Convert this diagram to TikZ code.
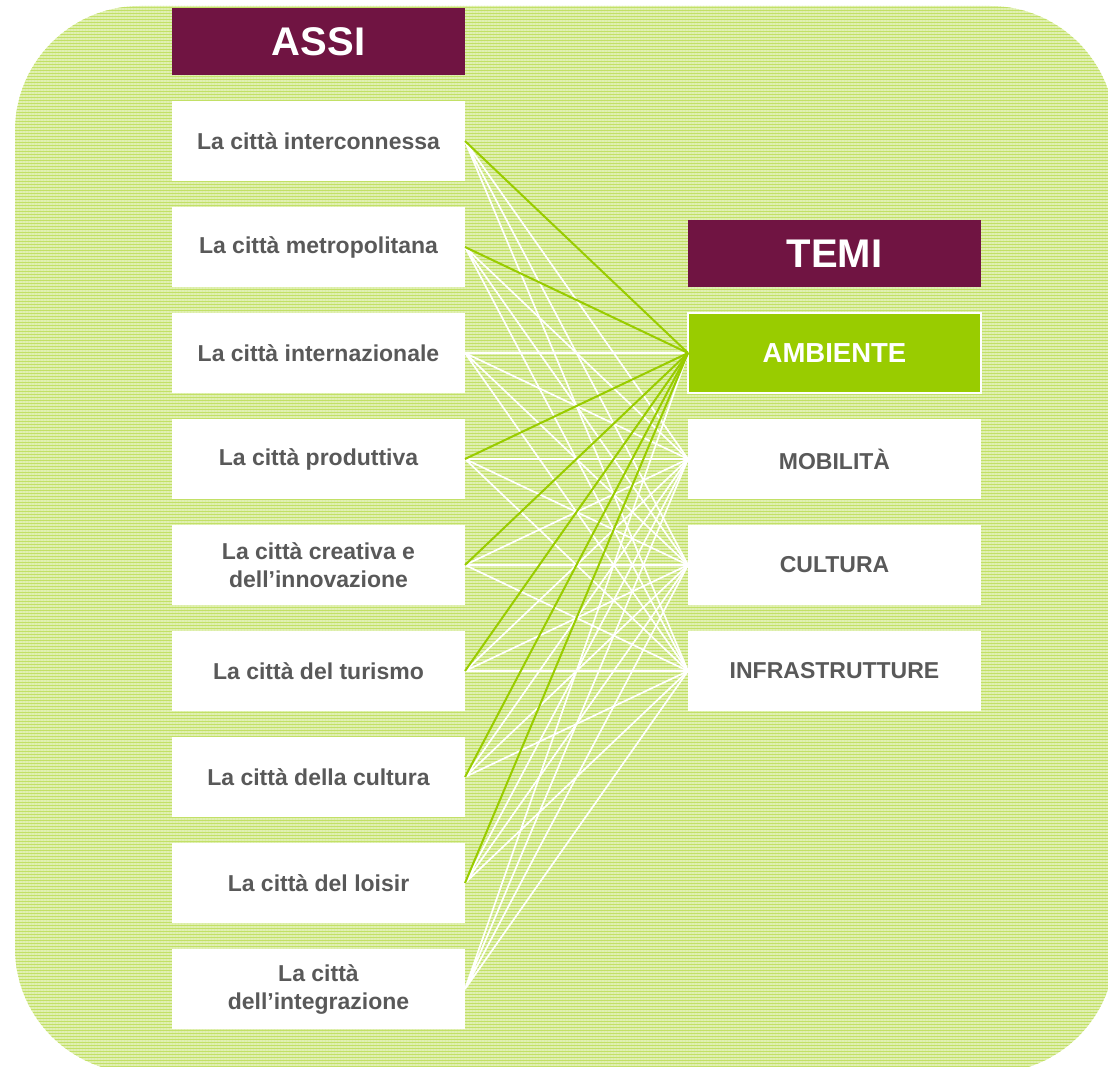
\documentclass[tikz,border=0pt]{standalone}
\usepackage{fontspec}
\setmainfont{Liberation Sans}
\usetikzlibrary{positioning}
\definecolor{ctGreen}{HTML}{99CC00}
\definecolor{ctMaroon}{HTML}{701442}
\definecolor{ctGray}{HTML}{595959}
\tikzset{
  % Header box (maroon)
  hbox/.style={rectangle,minimum width=293pt,minimum height=67pt,
    inner sep=0pt,outer sep=0pt,fill=ctMaroon,text=white,
    font=\fontsize{40pt}{44pt}\selectfont\bfseries},
  % White box (asse / tema)
  abox/.style={rectangle,minimum width=293pt,minimum height=80pt,
    inner sep=0pt,outer sep=0pt,fill=white,text=ctGray,align=center,
    font=\fontsize{23pt}{28pt}\selectfont\bfseries},
  % Highlighted tema (green)
  gbox/.style={abox,fill=ctGreen,draw=white,line width=1.5pt,text=white,
    font=\fontsize{27.5pt}{32pt}\selectfont\bfseries},
  % Links
  wlink/.style={draw=white,line width=1.7pt},
  glink/.style={draw=ctGreen,line width=2pt},
  % Background texture
  hline/.style={ctGreen!60,line width=0.9pt},
  vline/.style={ctGreen!35,line width=0.6pt},
}
\begin{document}
\begin{tikzpicture}[node distance=26pt and 223pt]
  \useasboundingbox (0,0) rectangle (1108pt,-1067pt);
  % background panel
  \begin{scope}
    \clip[rounded corners=125pt] (15pt,-6pt) rectangle (1115pt,-1073pt);
    \fill[ctGreen!30] (0,0) rectangle (1120pt,-1080pt);
    \foreach \xx in {16,19,...,1114} \draw[vline] (\xx pt,0) -- (\xx pt,-1080pt);
    \foreach \yy in {7,10,...,1073} \draw[hline] (0,-\yy pt) -- (1120pt,-\yy pt);
  \end{scope}

  % assi
  \node[hbox] (assi) at (318.5pt,-41.5pt) {ASSI};
  \node[abox,below=of assi] (a1) {La città interconnessa};
  \node[abox,below=of a1] (a2) {La città metropolitana};
  \node[abox,below=of a2] (a3) {La città internazionale};
  \node[abox,below=of a3] (a4) {La città produttiva};
  \node[abox,below=of a4] (a5) {La città creativa e\\dell’innovazione};
  \node[abox,below=of a5] (a6) {La città del turismo};
  \node[abox,below=of a6] (a7) {La città della cultura};
  \node[abox,below=of a7] (a8) {La città del loisir};
  \node[abox,below=of a8] (a9) {La città\\dell’integrazione};

  % temi
  \node[gbox,right=of a3] (amb) {AMBIENTE};
  \node[hbox,above=of amb] (temi) {TEMI};
  \node[abox,right=of a4] (mob) {MOBILITÀ};
  \node[abox,right=of a5] (cul) {CULTURA};
  \node[abox,right=of a6] (inf) {INFRASTRUTTURE};

  % white links
  \draw[wlink] (a1.east) -- (mob.west) (a1.east) -- (cul.west) (a1.east) -- (inf.west);
  \draw[wlink] (a2.east) -- (mob.west) (a2.east) -- (cul.west) (a2.east) -- (inf.west);
  \draw[wlink] (a3.east) -- (amb.west) (a3.east) -- (mob.west)
    (a3.east) -- (cul.west) (a3.east) -- (inf.west);
  \draw[wlink] (a4.east) -- (mob.west) (a4.east) -- (cul.west) (a4.east) -- (inf.west);
  \draw[wlink] (a5.east) -- (mob.west) (a5.east) -- (cul.west) (a5.east) -- (inf.west);
  \draw[wlink] (a6.east) -- (mob.west) (a6.east) -- (cul.west) (a6.east) -- (inf.west);
  \draw[wlink] (a7.east) -- (mob.west) (a7.east) -- (cul.west) (a7.east) -- (inf.west);
  \draw[wlink] (a8.east) -- (mob.west) (a8.east) -- (cul.west) (a8.east) -- (inf.west);
  \draw[wlink] (a9.east) -- (amb.west) (a9.east) -- (mob.west)
    (a9.east) -- (cul.west) (a9.east) -- (inf.west);

  % green links to AMBIENTE
  \draw[glink] (a1.east) -- (amb.west);
  \draw[glink] (a2.east) -- (amb.west);
  \draw[glink] (a4.east) -- (amb.west);
  \draw[glink] (a5.east) -- (amb.west);
  \draw[glink] (a6.east) -- (amb.west);
  \draw[glink] (a7.east) -- (amb.west);
  \draw[glink] (a8.east) -- (amb.west);
\end{tikzpicture}
\end{document}
